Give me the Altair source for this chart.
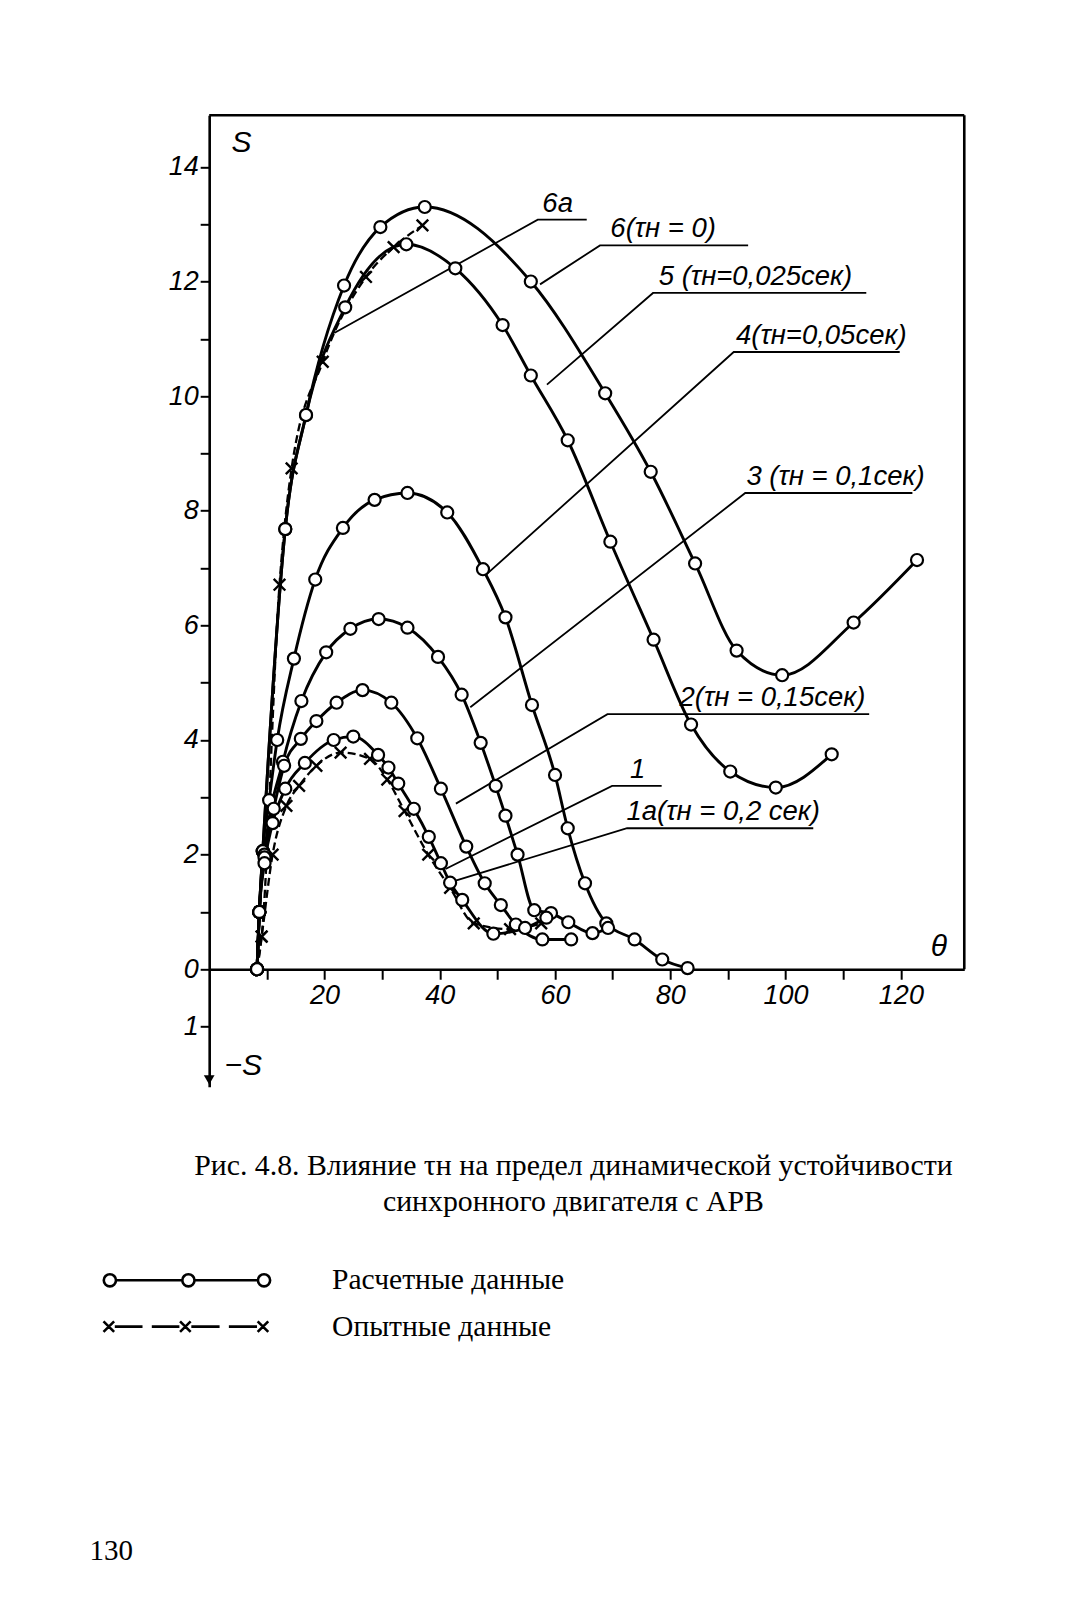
import altair as alt
import pandas as pd

# ---------------- data (theta in degrees, S) ----------------
c6_t = [8.3, 8.7, 9.3, 13.2, 16.8, 23.4, 29.7, 37.4, 55.8, 68.7, 76.6, 84.3, 91.5, 99.4, 111.8, 122.8]
c6_s = [0.0, 1.0, 2.06, 7.68, 9.67, 11.93, 12.95, 13.3, 12.0, 10.05, 8.68, 7.08, 5.56, 5.13, 6.05, 7.14]

c5_t = [8.3, 8.7, 9.3, 13.2, 16.8, 23.6, 34.2, 42.7, 50.9, 55.8, 62.2, 69.6, 77.1, 83.6, 90.4, 98.3, 108.0]
c5_s = [0.0, 1.0, 2.06, 7.68, 9.67, 11.55, 12.65, 12.23, 11.24, 10.36, 9.23, 7.46, 5.75, 4.27, 3.45, 3.17, 3.75]

c4_t = [8.3, 8.7, 9.3, 10.4, 11.8, 14.7, 18.4, 23.2, 28.7, 34.4, 41.3, 47.5, 51.4, 56.0, 60.0, 62.2, 65.2, 68.9, 73.8, 78.6, 83.0]
c4_s = [0.0, 1.0, 2.06, 2.95, 4.0, 5.42, 6.8, 7.7, 8.19, 8.31, 7.97, 6.98, 6.14, 4.61, 3.39, 2.46, 1.5, 0.8, 0.52, 0.17, 0.02]

c3_t = [8.3, 8.7, 9.6, 12.8, 16.0, 20.3, 24.5, 29.4, 34.4, 39.7, 43.8, 47.1, 49.7, 51.4, 53.5, 56.4, 59.3, 62.3, 66.5, 69.2]
c3_s = [0.0, 1.0, 2.0, 3.62, 4.68, 5.53, 5.94, 6.11, 5.96, 5.45, 4.79, 3.95, 3.2, 2.68, 2.0, 1.03, 0.98, 0.82, 0.63, 0.72]

c2_t = [8.3, 8.7, 9.6, 11.2, 13.0, 15.9, 18.6, 22.1, 26.6, 31.6, 36.1, 40.2, 44.6, 47.8, 50.6, 53.2, 57.8, 62.8]
c2_s = [0.0, 1.0, 1.95, 2.8, 3.55, 4.02, 4.33, 4.65, 4.87, 4.65, 4.03, 3.15, 2.14, 1.5, 1.12, 0.78, 0.52, 0.52]

c1_t = [8.3, 8.7, 9.6, 11.0, 13.2, 16.6, 21.6, 25.0, 29.3, 31.1, 32.8, 35.5, 38.1, 40.2, 41.8, 43.9, 49.3, 54.8, 58.5]
c1_s = [0.0, 1.0, 1.85, 2.55, 3.15, 3.6, 4.0, 4.06, 3.74, 3.52, 3.24, 2.8, 2.31, 1.85, 1.51, 1.21, 0.62, 0.72, 0.9]

c1a_t = [8.3, 9.1, 11.0, 13.4, 15.6, 18.6, 22.8, 27.9, 30.9, 33.9, 38.0, 41.8, 45.9, 52.2, 57.6]
c1a_s = [0.0, 0.57, 2.0, 2.85, 3.2, 3.55, 3.78, 3.67, 3.31, 2.76, 2.0, 1.42, 0.8, 0.7, 0.8]

c6a_t = [8.3, 9.1, 12.2, 14.3, 19.7, 27.2, 32.0, 37.0]
c6a_s = [0.0, 0.57, 6.71, 8.74, 10.6, 12.08, 12.6, 12.98]

curve_names = ["6", "5", "4", "3", "2", "1", "1а", "6а"]
curve_kinds = ["calc", "calc", "calc", "calc", "calc", "calc", "exp", "exp"]
curve_t = [c6_t, c5_t, c4_t, c3_t, c2_t, c1_t, c1a_t, c6a_t]
curve_s = [c6_s, c5_s, c4_s, c3_s, c2_s, c1_s, c1a_s, c6a_s]

# leader lines and curve labels
lead_names = ["6а", "6", "5", "4", "3", "2", "1", "1а"]
lead_t = [[21.7, 57.0, 65.5], [57.4, 67.8, 93.5], [58.6, 77.0, 114.0], [48.0, 91.0, 119.8],
          [45.3, 93.0, 122.0], [42.8, 69.1, 114.5], [41.0, 69.9, 78.5], [41.9, 72.5, 104.8]]
lead_s = [[11.1, 13.08, 13.08], [11.95, 12.63, 12.63], [10.2, 11.8, 11.8], [6.88, 10.77, 10.77],
          [4.57, 8.31, 8.31], [2.89, 4.45, 4.45], [1.75, 3.2, 3.2], [1.52, 2.46, 2.46]]
label_text = ["6а", "6(τн = 0)", "5 (τн=0,025сек)", "4(τн=0,05сек)", "3 (τн = 0,1сек)",
              "2(τн = 0,15сек)", "1", "1а(τн = 0,2 сек)"]
label_t = [57.8, 69.6, 78.0, 91.4, 93.2, 81.6, 73.0, 72.4]
label_s = [13.08, 12.63, 11.8, 10.77, 8.31, 4.45, 3.2, 2.46]

axis_text = ["S", "θ", "−S"]
axis_text_t = [5.6, 126.6, 5.9]
axis_text_s = [14.42, 0.38, -1.69]

x_ticks = list(range(10, 121, 10))
y_ticks = list(range(-1, 15))

legend_names = ["Расчетные данные", "Опытные данные"]
caption_lines = ["Рис. 4.8. Влияние τн на предел динамической устойчивости",
                 "синхронного двигателя с АРВ"]
page_number = "130"

X_DOM = [0, 131]
Y_DOM = [-2.05, 14.9]

# ---------------- layout ----------------
K = 1 / 0.98
W = 740 * K
H = 952 * K
PAD_L = 205 * K - 8
PAD_T = 113 * K - 8
X_OFF = -(2.05 / (Y_DOM[1] - Y_DOM[0])) * H

# ---------------- tables ----------------
rows = []
for n, k, ts, ss in zip(curve_names, curve_kinds, curve_t, curve_s):
    for i, (t, s) in enumerate(zip(ts, ss)):
        rows.append({"curve": n, "kind": k, "theta": t, "S": s, "order": i})
df = pd.DataFrame(rows)

lrows = []
for n, ts, ss in zip(lead_names, lead_t, lead_s):
    for i, (t, s) in enumerate(zip(ts, ss)):
        lrows.append({"curve": n, "theta": t, "S": s, "order": i})
ldf = pd.DataFrame(lrows)

labdf = pd.DataFrame({"text": label_text, "theta": label_t, "S": label_s})
axdf = pd.DataFrame({"text": axis_text, "theta": axis_text_t, "S": axis_text_s})
frame_df = pd.DataFrame({"theta": [X_DOM[0], X_DOM[1]], "theta2": [X_DOM[1], X_DOM[1]],
                         "S": [Y_DOM[1], 0], "S2": [Y_DOM[1], Y_DOM[1]]})
arrow_df = pd.DataFrame({"theta": [0], "S": [-1.93]})

HAND = "Liberation Sans"

x_axis = alt.Axis(values=x_ticks, format="d",
                  labelExpr="datum.value % 20 == 0 ? datum.label : ''",
                  offset=X_OFF, tickSize=10, tickWidth=2, tickColor="black",
                  domainWidth=2.6, domainColor="black", grid=False, title=None,
                  labelFont=HAND, labelFontStyle="italic", labelFontSize=27,
                  labelColor="black", labelPadding=3)
y_axis = alt.Axis(values=y_ticks, format="d",
                  labelExpr="datum.value == -1 ? '1' : (datum.value >= 0 && datum.value % 2 == 0 ? datum.label : '')",
                  tickSize=9, tickWidth=2, tickColor="black",
                  domainWidth=2.6, domainColor="black", grid=False, title=None,
                  labelFont=HAND, labelFontStyle="italic", labelFontSize=27,
                  labelColor="black", labelPadding=2)


def X(field="theta"):
    return alt.X(f"{field}:Q", scale=alt.Scale(domain=X_DOM, nice=False, zero=False), axis=x_axis)


def Y(field="S"):
    return alt.Y(f"{field}:Q", scale=alt.Scale(domain=Y_DOM, nice=False, zero=False), axis=y_axis)


base = alt.Chart(df)

frame = alt.Chart(frame_df).mark_rule(color="black", strokeWidth=2.6).encode(
    x=X(), x2="theta2:Q", y=Y(), y2="S2:Q")

arrow = alt.Chart(arrow_df).mark_point(shape="triangle-down", filled=True, color="black",
                                       size=115, opacity=1).encode(x=X(), y=Y())

calc_lines = base.transform_filter("datum.kind == 'calc'").mark_line(
    interpolate="monotone", color="black", strokeWidth=2.9).encode(
    x=X(), y=Y(), detail="curve:N", order="order:Q")

exp_lines = base.transform_filter("datum.kind == 'exp'").mark_line(
    interpolate="monotone", color="black", strokeWidth=2.3, strokeDash=[8, 4]).encode(
    x=X(), y=Y(), detail="curve:N", order="order:Q")

crosses = base.transform_filter("datum.kind == 'exp' && datum.order > 0").mark_point(
    shape="M-1,-1L1,1M-1,1L1,-1", filled=False, stroke="black", strokeWidth=2.4,
    size=135, opacity=1).encode(x=X(), y=Y())

circles = base.transform_filter("datum.kind == 'calc'").mark_point(
    shape="circle", filled=True, fill="white", stroke="black", strokeWidth=2.2,
    size=145, opacity=1).encode(x=X(), y=Y())

leaders = alt.Chart(ldf).mark_line(color="black", strokeWidth=1.8).encode(
    x=X(), y=Y(), detail="curve:N", order="order:Q")

labels = alt.Chart(labdf).mark_text(align="left", baseline="bottom", dy=-2, font=HAND,
                                    fontStyle="italic", fontSize=27.5, color="black").encode(
    x=X(), y=Y(), text="text:N")

axis_labels = alt.Chart(axdf).mark_text(align="center", baseline="middle", font=HAND,
                                        fontStyle="italic", fontSize=30, color="black").encode(
    x=X(), y=Y(), text="text:N")

# legend (custom symbol paths drawn by the legend itself)
r = 0.46
cx = [-0.54, 5.38, 11.08]
p_calc = "".join(f"M{c - r:.2f},0A{r},{r} 0 1,0 {c + r:.2f},0A{r},{r} 0 1,0 {c - r:.2f},0Z" for c in cx)
p_calc += f"M{cx[0] + r:.2f},0L{cx[1] - r:.2f},0M{cx[1] + r:.2f},0L{cx[2] - r:.2f},0"
xx = [-0.62, 5.15, 11.0]
d = 0.4
p_exp = "".join(f"M{c - d:.2f},{-d}L{c + d:.2f},{d}M{c - d:.2f},{d}L{c + d:.2f},{-d}" for c in xx)
for a, b in [(xx[0], xx[1]), (xx[1], xx[2])]:
    s0 = a + 0.45
    s1 = b - 0.45
    mid = (s0 + s1) / 2
    p_exp += f"M{s0:.2f},0L{mid - 0.35:.2f},0M{mid + 0.35:.2f},0L{s1:.2f},0"

SYM = 26 * K
leg_df = pd.DataFrame({"kind": legend_names})
legend_layer = alt.Chart(leg_df).mark_point(opacity=0).encode(
    x=alt.value(0), y=alt.value(0),
    shape=alt.Shape("kind:N", sort=None,
                    scale=alt.Scale(domain=legend_names, range=[p_calc, p_exp]),
                    legend=alt.Legend(title=None, orient="none",
                                      legendX=100 * K - (PAD_L + 8),
                                      legendY=1240 * K - (PAD_T + 8),
                                      symbolSize=SYM * SYM, symbolStrokeWidth=2.6,
                                      symbolStrokeColor="black", symbolFillColor="white",
                                      symbolOpacity=1, labelOffset=(322 - 100) * K - SYM,
                                      rowPadding=42 * K - SYM,
                                      padding=0, labelFont="Liberation Serif",
                                      labelFontSize=29.6, labelColor="black",
                                      labelLimit=400)))

cap_df = pd.DataFrame({"text": caption_lines, "line": [0, 1]})
CAP_X = 562 * K - (PAD_L + 8)
cap1 = alt.Chart(cap_df).transform_filter("datum.line == 0").mark_text(
    align="center", baseline="middle", font="Liberation Serif", fontSize=29.8, color="black").encode(
    x=alt.value(CAP_X), y=alt.value(1143 * K - (PAD_T + 8)), text="text:N")
cap2 = alt.Chart(cap_df).transform_filter("datum.line == 1").mark_text(
    align="center", baseline="middle", font="Liberation Serif", fontSize=29.8, color="black").encode(
    x=alt.value(CAP_X), y=alt.value(1178 * K - (PAD_T + 8)), text="text:N")
pnum = alt.Chart(pd.DataFrame({"text": [page_number]})).mark_text(
    align="center", baseline="middle", font="Liberation Serif", fontSize=29, color="black").encode(
    x=alt.value(109 * K - (PAD_L + 8)), y=alt.value(1520 * K - (PAD_T + 8)), text="text:N")

chart = alt.layer(frame, leaders, calc_lines, exp_lines, crosses, circles, arrow,
                  labels, axis_labels, legend_layer, cap1, cap2, pnum).properties(
    width=W, height=H,
    autosize=alt.AutoSizeParams(type="none"),
    padding={"left": PAD_L, "top": PAD_T, "right": 60, "bottom": 1540 * K - (PAD_T + 8 + H)},
    background="white"
).configure_view(stroke=None)

chart.save("out.html", embed_options={"renderer": "svg", "actions": False})
